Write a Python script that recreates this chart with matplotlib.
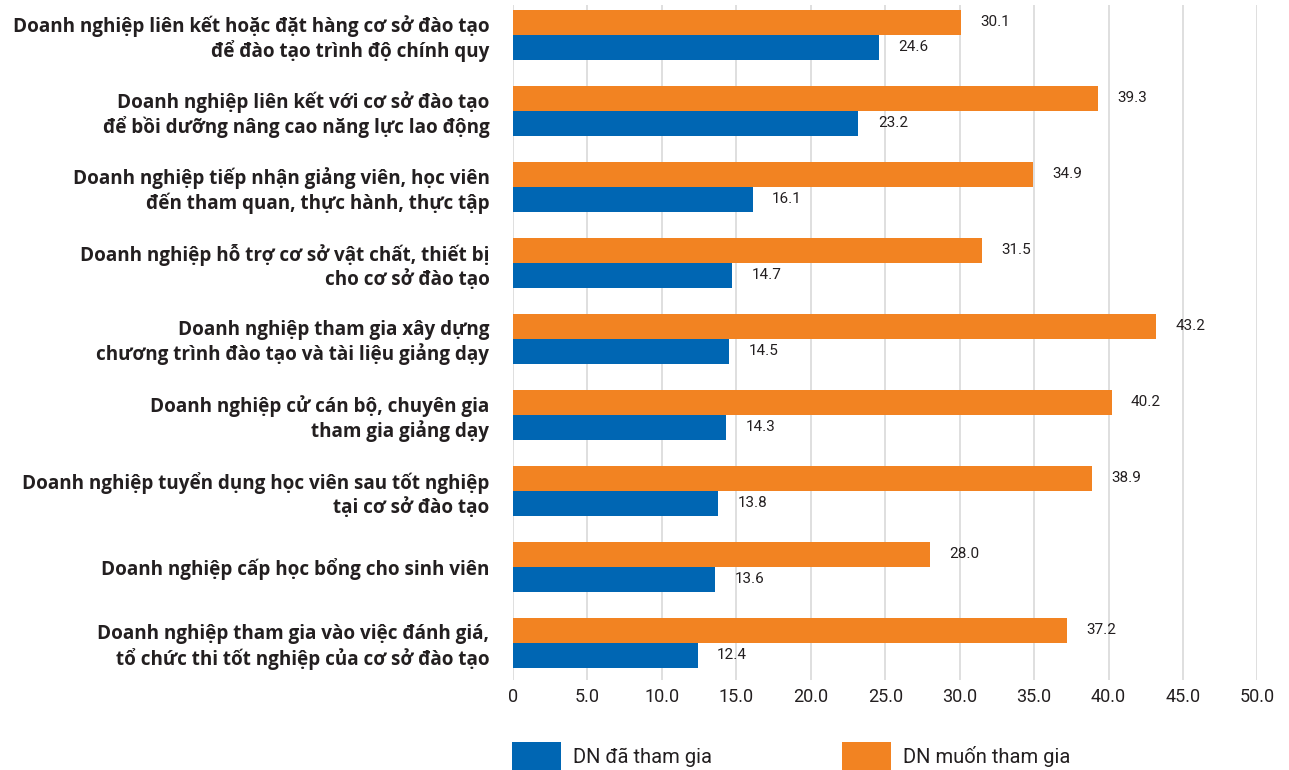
import numpy as np
import matplotlib.pyplot as plt

categories = [
    "Doanh nghiệp liên kết hoặc đặt hàng cơ sở đào tạo\nđể đào tạo trình độ chính quy",
    "Doanh nghiệp liên kết với cơ sở đào tạo\nđể bồi dưỡng nâng cao năng lực lao động",
    "Doanh nghiệp tiếp nhận giảng viên, học viên\nđến tham quan, thực hành, thực tập",
    "Doanh nghiệp hỗ trợ cơ sở vật chất, thiết bị\ncho cơ sở đào tạo",
    "Doanh nghiệp tham gia xây dựng\nchương trình đào tạo và tài liệu giảng dạy",
    "Doanh nghiệp cử cán bộ, chuyên gia\ntham gia giảng dạy",
    "Doanh nghiệp tuyển dụng học viên sau tốt nghiệp\ntại cơ sở đào tạo",
    "Doanh nghiệp cấp học bổng cho sinh viên",
    "Doanh nghiệp tham gia vào việc đánh giá,\ntổ chức thi tốt nghiệp của cơ sở đào tạo",
]
da_tham_gia = [24.6, 23.2, 16.1, 14.7, 14.5, 14.3, 13.8, 13.6, 12.4]
muon_tham_gia = [30.1, 39.3, 34.9, 31.5, 43.2, 40.2, 38.9, 28.0, 37.2]
xticks = np.arange(0, 55, 5)
xtick_labels = ["0"] + [f"{v:.1f}" for v in xticks[1:]]

BLUE = "#0066b3"
ORANGE = "#f28322"
TEXT = "#231f20"
LIGHT = ["Roboto", "DejaVu Sans"]
BOLD = ["Open Sans", "DejaVu Sans"]

fig = plt.figure(figsize=(12.89, 7.70), dpi=100)
ax = fig.add_axes([0.398, 0.117, 0.5775, 0.8765])

y = np.arange(len(categories))
h = 0.33
b_muon = ax.barh(y - h / 2, muon_tham_gia, height=h, color=ORANGE, zorder=3)
b_da = ax.barh(y + h / 2, da_tham_gia, height=h, color=BLUE, zorder=3)

# value labels to the right of each bar
for yi, v in zip(y, muon_tham_gia):
    ax.annotate(f"{v:.1f}", (v, yi - h / 2), xytext=(14, 0), textcoords="offset points",
                va="center", ha="left", fontsize=11, family=LIGHT, color=TEXT)
for yi, v in zip(y, da_tham_gia):
    ax.annotate(f"{v:.1f}", (v, yi + h / 2), xytext=(14, 0), textcoords="offset points",
                va="center", ha="left", fontsize=11, family=LIGHT, color=TEXT)

ax.set_xlim(0, 50)
ax.set_ylim(8.49, -0.39)
ax.set_xticks(xticks)
ax.set_xticklabels(xtick_labels, family=LIGHT, fontsize=13, color=TEXT)
ax.set_yticks(y)
ax.set_yticklabels(categories, fontsize=13.6, fontweight="bold", family=BOLD,
                   color=TEXT, linespacing=1.2)
ax.tick_params(axis="both", length=0)
ax.tick_params(axis="y", pad=17)
ax.tick_params(axis="x", pad=6)
ax.grid(axis="x", color="#d9d9d9", linewidth=1.2, zorder=0)
for s in ax.spines.values():
    s.set_visible(False)

# two separate legend entries placed along the bottom
for handle, text, x0 in [(b_da, "DN đã tham gia", 512 / 1289), (b_muon, "DN muốn tham gia", 842 / 1289)]:
    leg = fig.legend([handle], [text], loc="lower left", bbox_to_anchor=(x0, 0.0),
                     frameon=False, borderpad=0, borderaxespad=0,
                     handlelength=2.45, handleheight=1.75, handletextpad=0.6,
                     prop={"family": LIGHT, "size": 14.5})
    for t in leg.get_texts():
        t.set_color(TEXT)

fig.savefig("out.png", dpi=100)
